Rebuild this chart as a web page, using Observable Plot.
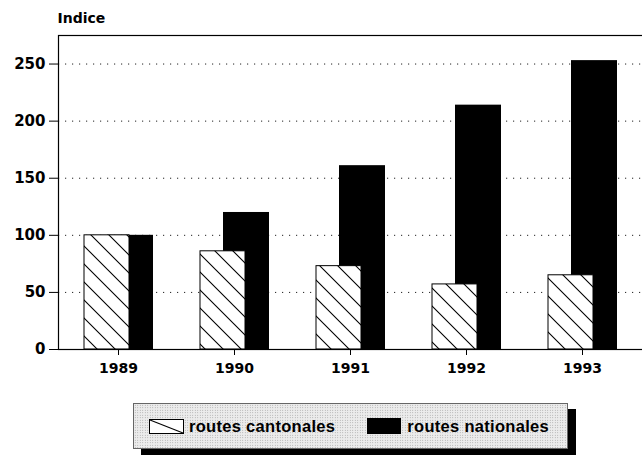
<!DOCTYPE html>
<html><head><meta charset="utf-8">
<script src="https://cdn.jsdelivr.net/npm/d3@7"></script>
<script src="https://cdn.jsdelivr.net/npm/@observablehq/plot@0.6"></script>
<style>
body{margin:0;background:#fff;font-family:"Liberation Sans",Arial,sans-serif;}
#chart{position:relative;width:642px;height:455px;overflow:hidden;background:#fff}
#chart svg.plot{display:block;max-width:none !important}
.legend{position:absolute;left:133px;top:403px;width:435px;height:46px;box-sizing:border-box;border:1px solid #666;
  background-color:#ececec;background-image:radial-gradient(#999 0.6px, transparent 0.8px);background-size:2.5px 2.5px;
  box-shadow:8px 6px 0 #000;display:flex;align-items:center;font-weight:bold;font-size:16.5px;color:#000;letter-spacing:0.3px}
.legend .item{display:flex;align-items:center}
.legend svg{display:block;margin-right:5px}
</style></head>
<body>
<svg width="0" height="0" style="position:absolute"><defs>
<pattern id="hatch" patternUnits="userSpaceOnUse" width="18" height="18">
<rect width="18" height="18" fill="#fff"/>
<path d="M-2,-2 L20,20 M-2,16 L2,20 M16,-2 L20,2" stroke="#000" stroke-width="1.1" fill="none"/>
</pattern></defs></svg>
<div id="chart"></div>
<script>
const years = ["1989", "1990", "1991", "1992", "1993"];
const cantonales = [100, 86, 73, 57, 65];
const nationales = [100, 120, 161, 214, 253];
const seriesNames = ["routes cantonales", "routes nationales"];
const yTicks = [0, 50, 100, 150, 200, 250];
const yTitle = "Indice";

const natData = years.map((y, i) => ({year: y, serie: seriesNames[1], value: nationales[i]}));
const cantData = years.map((y, i) => ({year: y, serie: seriesNames[0], value: cantonales[i]}));

const axisFont = "'DejaVu Sans', sans-serif";

const plot = Plot.plot({
  width: 652,
  height: 395,
  marginLeft: 58,
  marginRight: 4,
  marginTop: 35,
  marginBottom: 46,
  style: {fontFamily: axisFont, color: "#000", background: "transparent", maxWidth: "none"},
  x: {type: "band", domain: years, padding: 0, range: [58, 642]},
  y: {domain: [0, 275]},
  marks: [
    Plot.gridY(yTicks.filter(d => d > 0), {stroke: "#222", strokeOpacity: 1, strokeWidth: 1, strokeDasharray: "1.2,5.8"}),
    Plot.barY(natData, {x: "year", y: "value", fill: "#000", insetLeft: 47, insetRight: 23}),
    Plot.barY(cantData, {x: "year", y: "value", fill: "url(#hatch)", stroke: "#000", strokeWidth: 1, insetLeft: 24, insetRight: 47}),
    Plot.frame({stroke: "#000", strokeWidth: 1.2}),
    Plot.axisY({ticks: yTicks, tickSize: 9, tickPadding: 4, label: null, fontSize: 15, fontWeight: "bold"}),
    Plot.axisX({tickSize: 6, tickPadding: 8, label: null, fontSize: 14, fontWeight: "bold"}),
    Plot.text([yTitle], {frameAnchor: "top-left", dy: -22, dx: -1, textAnchor: "start", fontSize: 14, fontWeight: "bold"})
  ]
});
document.getElementById("chart").appendChild(plot);

const legend = document.createElement("div");
legend.className = "legend";
legend.innerHTML = `
  <div class="item" style="margin-left:15px"><svg width="35" height="15"><rect x="0.5" y="0.5" width="34" height="14" fill="#fff" stroke="#000"/><line x1="1" y1="1" x2="34" y2="14" stroke="#000" stroke-width="1.1"/></svg><span>${seriesNames[0]}</span></div>
  <div class="item" style="margin-left:32px"><svg width="35" height="16"><rect x="0" y="0" width="34" height="16" fill="#000"/></svg><span>${seriesNames[1]}</span></div>`;
document.getElementById("chart").appendChild(legend);
</script>
</body></html>
